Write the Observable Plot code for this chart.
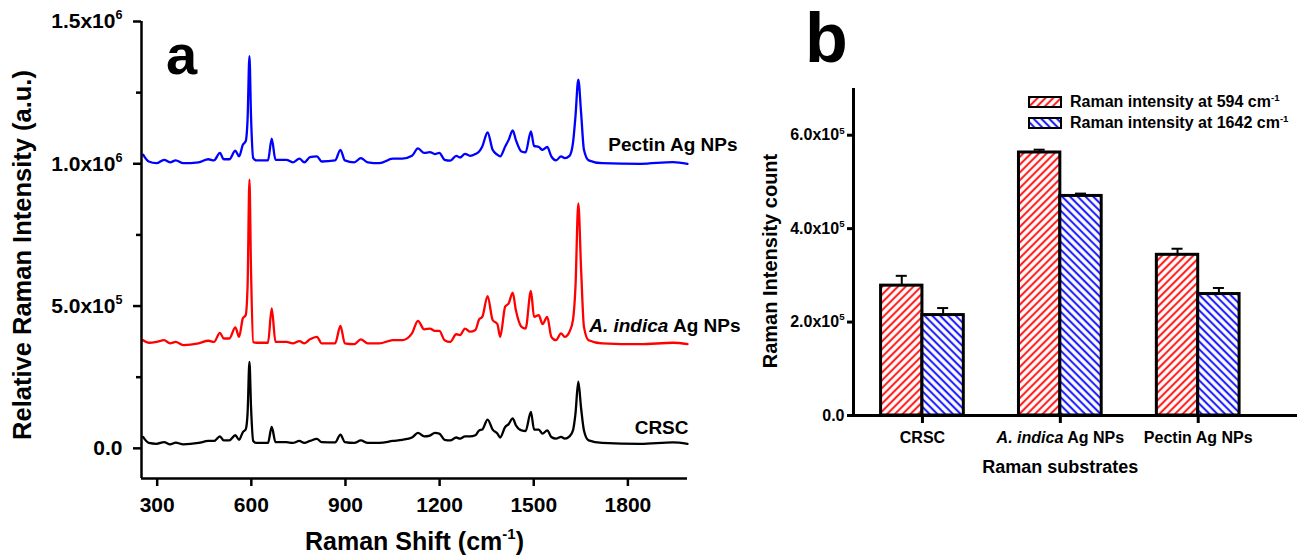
<!DOCTYPE html>
<html>
<head>
<meta charset="utf-8">
<script src="https://cdn.jsdelivr.net/npm/d3@7"></script>
<script src="https://cdn.jsdelivr.net/npm/@observablehq/plot@0.6"></script>
<style>
  html, body { margin: 0; padding: 0; background: #fff; }
  #wrap { position: relative; width: 1302px; height: 558px; overflow: hidden;
          font-family: "Liberation Sans", Arial, Helvetica, sans-serif; color: #000; }
  .panel { position: absolute; top: 0; }
  .tag { position: absolute; font-weight: bold; line-height: 1; color: #000; }
  #legend { position: absolute; left: 1028px; top: 92px; font-size: 16px; font-weight: bold; }
  .lg { display: flex; align-items: center; height: 20.5px; white-space: nowrap; }
  .lg svg { display: block; margin-right: 8px; }
  .lg sup { font-size: 60%; line-height: 0; vertical-align: 0.6em; }
</style>
</head>
<body>
<svg width="0" height="0" style="position:absolute">
  <defs>
    <pattern id="hatchRed" patternUnits="userSpaceOnUse" width="5.5" height="5.5" patternTransform="rotate(45)">
      <rect width="5.5" height="5.5" fill="#fff"/>
      <line x1="2.75" y1="-1" x2="2.75" y2="6.5" stroke="#ff1f1f" stroke-width="2.1"/>
    </pattern>
    <pattern id="hatchBlue" patternUnits="userSpaceOnUse" width="5.5" height="5.5" patternTransform="rotate(-45)">
      <rect width="5.5" height="5.5" fill="#fff"/>
      <line x1="2.75" y1="-1" x2="2.75" y2="6.5" stroke="#1f1fff" stroke-width="2.1"/>
    </pattern>
  </defs>
</svg>
<div id="wrap">
  <div id="pa" class="panel" style="left:0px"></div>
  <div id="pb" class="panel" style="left:745px"></div>
  <div class="tag" style="left:166px; top:27px; font-size:56px;">a</div>
  <div class="tag" style="left:805px; top:3px; font-size:70px;">b</div>
  <div id="legend">
    <div class="lg"><svg width="34" height="12"><rect x="1" y="1" width="32" height="10" fill="url(#hatchRed)" stroke="#000" stroke-width="2"/></svg><span>Raman intensity at 594 cm<sup>-1</sup></span></div>
    <div class="lg"><svg width="34" height="12"><rect x="1" y="1" width="32" height="10" fill="url(#hatchBlue)" stroke="#000" stroke-width="2"/></svg><span>Raman intensity at 1642 cm<sup>-1</sup></span></div>
  </div>
</div>
<script>
// ---------------- Panel a: Raman spectra ----------------
const ramanShift = [255,273,298,322,341,359,383,432,463,481,500,512,530,549,561,573,582,588,594,599,606,616,653,665,677,712,732,753,769,787,809,824,867,884,898,928,949,971,1008,1051,1081,1112,1131,1151,1169,1185,1199,1216,1234,1253,1265,1281,1297,1314,1326,1336,1353,1369,1384,1393,1409,1420,1433,1443,1461,1474,1491,1501,1516,1528,1543,1556,1571,1587,1599,1614,1625,1633,1642,1651,1660,1675,1718,1840,1944,1990];

// intensities in units of 10^3 counts
const pectinAgNPs = [1032,1008,1002,1014,1005,1012,1002,1005,1016,1012,
  1038,1016,1016,1046,1026,1067,1079,1155,1378,1167,
  1020,1012,1012,1088,1014,1014,1005,1018,1005,1023,
  1026,1008,1012,1049,1012,1005,1020,1005,1002,1018,
  1018,1028,1054,1038,1041,1034,1038,1014,1011,1028,
  1022,1035,1028,1034,1043,1061,1110,1049,1032,1026,
  1061,1084,1117,1084,1043,1040,1114,1063,1059,1049,
  1059,1026,1012,1026,1020,1028,1073,1167,1296,1178,
  1049,1012,1002,1000,1006,1000];

const indicaAgNPs = [380,371,374,380,369,374,363,369,378,374,
  406,386,386,425,392,457,468,568,944,627,
  374,371,371,492,374,374,369,377,369,383,
  392,369,369,430,369,366,383,369,369,380,
  380,404,448,418,421,413,413,380,374,401,
  398,421,410,416,453,462,535,451,437,392,
  498,509,547,486,427,421,553,462,468,437,
  462,392,380,404,392,410,451,568,861,627,
  427,380,369,366,371,366];

const crsc = [40,19,16,22,14,20,14,19,26,26,
  42,28,28,46,30,57,66,122,304,146,
  26,19,19,75,22,22,19,26,19,26,
  33,22,21,48,22,19,28,19,19,26,
  30,38,54,42,45,54,52,30,28,38,
  34,42,42,46,63,66,101,66,52,38,
  75,85,105,81,63,61,128,66,66,52,
  63,40,34,40,34,42,63,122,234,140,
  63,28,19,16,21,16];

const spectrumNames = ["Pectin Ag NPs", "A. indica Ag NPs", "CRSC"];
const spectrumColors = ["#0000ff", "#ff0000", "#000000"];
const spectraXDomain = [250, 1990];
const spectraYDomain = [-106000, 1500000];
const spectraXTicks = [300, 600, 900, 1200, 1500, 1800];
const spectraYTicks = [0, 500000, 1000000, 1500000];
const spectraYTickLabels = ["0.0", "5.0x10^5", "1.0x10^6", "1.5x10^6"];
const spectraYMinorTicks = [250000, 750000, 1250000];

// ---------------- Panel b: bar chart ----------------
const substrates = ["CRSC", "A. indica Ag NPs", "Pectin Ag NPs"];
const intensity594 = [278000, 563000, 344000];
const error594 = [21000, 6000, 13000];
const intensity1642 = [215000, 470000, 260000];
const error1642 = [15000, 5000, 13000];
const barYDomain = [0, 700000];
const barXDomain = [0.5, 3.72];
const barYTicks = [0, 200000, 400000, 600000];
const barYTickLabels = ["0.0", "2.0x10^5", "4.0x10^5", "6.0x10^5"];

const FONT = '"Liberation Sans", Arial, Helvetica, sans-serif';
const NS = "http://www.w3.org/2000/svg";

// Build tables
const seriesValues = [pectinAgNPs, indicaAgNPs, crsc];
const lineRows = spectrumNames.flatMap((name, s) =>
  ramanShift.map((x, i) => ({series: name, x, y: seriesValues[s][i] * 1000})));
const lastPoint = (s) => ({series: spectrumNames[s], x: ramanShift[ramanShift.length - 1],
  y: seriesValues[s][seriesValues[s].length - 1] * 1000});

const chartA = Plot.plot({
  width: 760, height: 558,
  marginLeft: 141, marginRight: 73, marginTop: 21, marginBottom: 80,
  x: {domain: spectraXDomain},
  y: {domain: spectraYDomain},
  color: {domain: spectrumNames, range: spectrumColors},
  style: {fontFamily: FONT, fontWeight: "bold", color: "#000", background: "transparent", overflow: "visible"},
  marks: [
    Plot.line(lineRows, {x: "x", y: "y", z: "series", stroke: "series", strokeWidth: 2.3, curve: "monotone-x"}),
    Plot.ruleX([spectraXDomain[0]], {stroke: "#000", strokeWidth: 2.5}),
    Plot.ruleY([spectraYDomain[0]], {stroke: "#000", strokeWidth: 2.5}),
    Plot.axisX(spectraXTicks, {tickSize: 8, tickPadding: 11, fontSize: 21, strokeWidth: 2.5, label: null,
      tickFormat: (v) => String(v)}),
    Plot.axisY(spectraYTicks, {tickSize: 8, tickPadding: 11, fontSize: 21, strokeWidth: 2.5, label: null,
      tickFormat: (v) => spectraYTickLabels[spectraYTicks.indexOf(v)]}),
    Plot.axisY(spectraYMinorTicks, {tickSize: 5, strokeWidth: 2.5, label: null, tickFormat: () => ""}),
    Plot.text([lastPoint(0)], {x: "x", y: "y", text: "series", textAnchor: "end", dx: 50, dy: -19, fontSize: 19}),
    Plot.text([lastPoint(1)], {x: "x", y: "y", text: "series", textAnchor: "end", dx: 53, dy: -18, fontSize: 19}),
    Plot.text([lastPoint(2)], {x: "x", y: "y", text: "series", textAnchor: "end", dx: 1, dy: -16, fontSize: 19}),
    Plot.text(["Relative Raman Intensity (a.u.)"], {text: (d) => d, frameAnchor: "left", textAnchor: "middle", lineAnchor: "middle",
      rotate: -90, dx: -119, dy: 5, fontSize: 25.5}),
    Plot.text(["Raman Shift (cm^{-1})"], {text: (d) => d, frameAnchor: "bottom", dy: 71, fontSize: 25})
  ]
});
document.getElementById("pa").appendChild(chartA);

const rows594 = substrates.map((s, i) => ({i: i + 1, v: intensity594[i], e: error594[i]}));
const rows1642 = substrates.map((s, i) => ({i: i + 1, v: intensity1642[i], e: error1642[i]}));
const barW = 0.3;
const capW = 0.04;
const midCategory = (1 + substrates.length) / 2;

const chartB = Plot.plot({
  width: 557, height: 558,
  marginLeft: 108, marginRight: 5, marginTop: 88, marginBottom: 143,
  x: {type: "linear", domain: barXDomain},
  y: {domain: barYDomain},
  style: {fontFamily: FONT, fontWeight: "bold", color: "#000", background: "transparent", overflow: "visible"},
  marks: [
    Plot.rect(rows594, {x1: (d) => d.i - barW, x2: (d) => d.i, y1: 0, y2: "v", fill: "url(#hatchRed)", stroke: "#000", strokeWidth: 3}),
    Plot.rect(rows1642, {x1: (d) => d.i, x2: (d) => d.i + barW, y1: 0, y2: "v", fill: "url(#hatchBlue)", stroke: "#000", strokeWidth: 3}),
    Plot.ruleX(rows594, {x: (d) => d.i - barW / 2, y1: "v", y2: (d) => d.v + d.e, strokeWidth: 2}),
    Plot.ruleY(rows594, {y: (d) => d.v + d.e, x1: (d) => d.i - barW / 2 - capW, x2: (d) => d.i - barW / 2 + capW, strokeWidth: 2}),
    Plot.ruleX(rows1642, {x: (d) => d.i + barW / 2, y1: "v", y2: (d) => d.v + d.e, strokeWidth: 2}),
    Plot.ruleY(rows1642, {y: (d) => d.v + d.e, x1: (d) => d.i + barW / 2 - capW, x2: (d) => d.i + barW / 2 + capW, strokeWidth: 2}),
    Plot.ruleX([barXDomain[0]], {stroke: "#000", strokeWidth: 3}),
    Plot.ruleY([barYDomain[0]], {stroke: "#000", strokeWidth: 3}),
    Plot.axisY(barYTicks, {tickSize: 6, tickPadding: 3, fontSize: 16, strokeWidth: 3, label: null,
      tickFormat: (v) => barYTickLabels[barYTicks.indexOf(v)]}),
    Plot.axisX(substrates.map((s, i) => i + 1), {tickSize: 8, tickPadding: 8, fontSize: 16, strokeWidth: 3, label: null,
      tickFormat: (i) => substrates[i - 1]}),
    Plot.text(["Raman Intensity count"], {text: (d) => d, frameAnchor: "left", textAnchor: "middle", lineAnchor: "middle",
      rotate: -90, dx: -83, dy: 9, fontSize: 20}),
    Plot.text(["Raman substrates"], {text: (d) => d, x: [midCategory], frameAnchor: "bottom", dy: 57, fontSize: 18})
  ]
});
document.getElementById("pb").appendChild(chartB);

// Rich text: superscripts (^x or ^{..}) and italic species name
function enrich(root) {
  root.querySelectorAll("text").forEach((el) => {
    if (el.querySelector("tspan")) return;
    const s = el.textContent;
    if (!/\^|A\. indica/.test(s)) return;
    const fs = parseFloat(getComputedStyle(el).fontSize) || 16;
    const re = /\^\{([^}]*)\}|\^(\S)|(A\. indica)/g;
    el.textContent = "";
    let last = 0, m, raised = false;
    const add = (txt, attrs) => {
      if (!txt) return;
      const t = document.createElementNS(NS, "tspan");
      t.textContent = txt;
      for (const k in attrs) t.setAttribute(k, attrs[k]);
      el.appendChild(t);
    };
    const lower = () => { const a = raised ? {dy: 0.42 * fs} : {}; raised = false; return a; };
    while ((m = re.exec(s))) {
      const pre = s.slice(last, m.index);
      if (pre) add(pre, lower());
      if (m[3]) {
        add(m[3], Object.assign({"font-style": "italic"}, lower()));
      } else {
        const sup = m[1] !== undefined ? m[1] : m[2];
        add(sup, {dy: -0.42 * fs, "font-size": 0.6 * fs});
        raised = true;
      }
      last = re.lastIndex;
    }
    const rest = s.slice(last);
    if (rest) add(rest, lower());
  });
}
enrich(chartA);
enrich(chartB);
</script>
</body>
</html>
